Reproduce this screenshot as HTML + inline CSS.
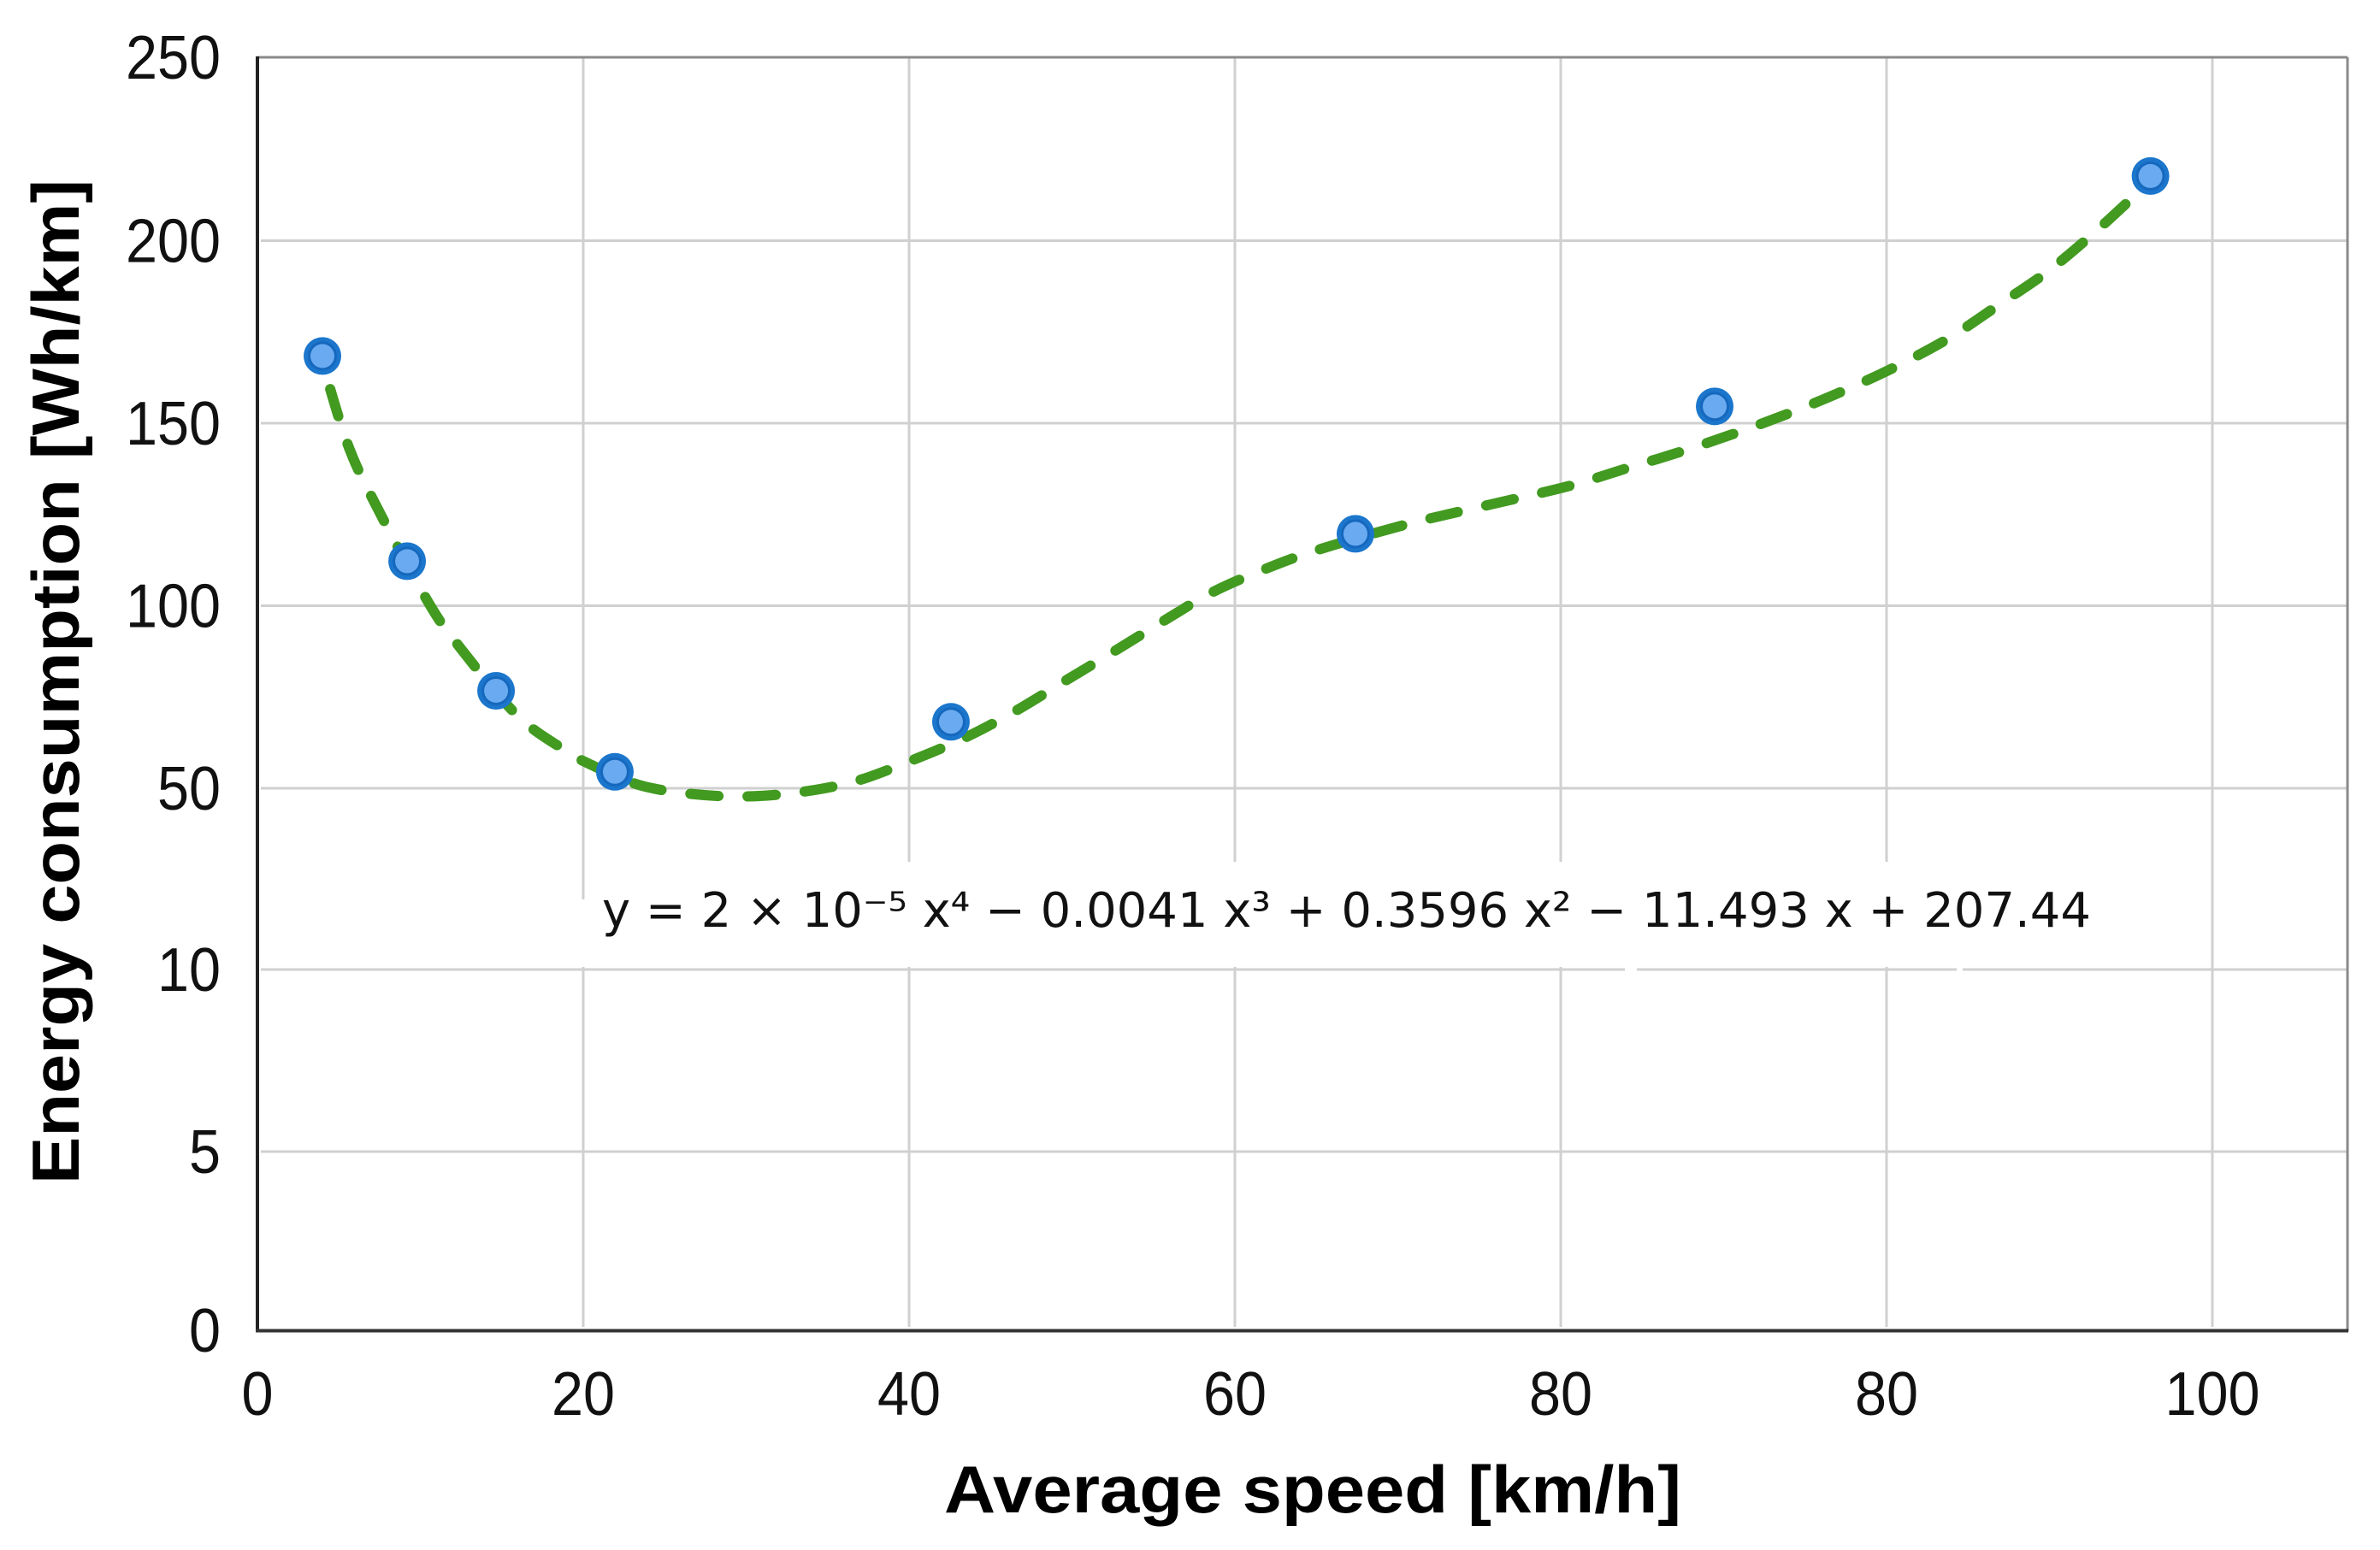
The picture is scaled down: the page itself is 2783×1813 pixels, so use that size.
<!DOCTYPE html>
<html lang="en">
<head>
<meta charset="utf-8">
<title>Energy consumption vs average speed</title>
<style>
html,body{margin:0;padding:0;background:#fff;}
body{width:2783px;height:1813px;overflow:hidden;}
svg{display:block;}
.tick{font-family:"Liberation Sans",sans-serif;font-size:72px;fill:#111;}
.title{font-family:"Liberation Sans",sans-serif;font-size:78px;font-weight:700;fill:#000;}
.eq{font-family:"DejaVu Sans",sans-serif;font-size:56px;fill:#111;}
</style>
</head>
<body>
<svg id="chart" xmlns="http://www.w3.org/2000/svg" width="2783" height="1813" viewBox="0 0 2783 1813">
  <rect x="0" y="0" width="2783" height="1813" fill="#fff"/>
  <g id="grid"></g>
  <g fill="#fff">
    <rect x="1000" y="1008" width="1450" height="123"/>
    <rect x="672" y="1052" width="330" height="79"/>
    <rect x="1900" y="1130" width="14" height="7"/>
    <rect x="2288" y="1130" width="7" height="7"/>
  </g>
  <g id="axes">
    <line x1="301" y1="67" x2="2745" y2="67" stroke="#8a8a8a" stroke-width="3"/>
    <line x1="2745" y1="67" x2="2745" y2="1557" stroke="#8a8a8a" stroke-width="3"/>
    <line x1="301" y1="66" x2="301" y2="1558" stroke="#222" stroke-width="4"/>
    <line x1="299" y1="1556.5" x2="2746" y2="1556.5" stroke="#333" stroke-width="4"/>
  </g>
  <g id="x-ticks"></g>
  <g id="y-ticks"></g>
  <path id="trend" fill="none" stroke="#429a20" stroke-width="12" stroke-linecap="round" stroke-dasharray="33 34" stroke-dashoffset="-7"/>
  <g id="points"></g>
  <text class="eq" x="704" y="1084" textLength="1741" lengthAdjust="spacingAndGlyphs">y = 2 × 10⁻⁵ x⁴ − 0.0041 x³ + 0.3596 x² − 11.493 x + 207.44</text>
  <text class="title" x="1104" y="1769" textLength="862" lengthAdjust="spacingAndGlyphs">Average speed [km/h]</text>
  <text class="title" transform="translate(92 1385) rotate(-90)" x="0" y="0" textLength="1175" lengthAdjust="spacingAndGlyphs">Energy consumption [Wh/km]</text>
</svg>
<script>
// Chart data (x in axis units; the printed x labels repeat "80", as in the source figure)
var xTickValues = [0, 20, 40, 60, 80, 100, 120];
var xTickLabels = ["0", "20", "40", "60", "80", "80", "100"];
var yTickValues = [0, 5, 10, 50, 100, 150, 200, 250];
var yTickLabels = ["0", "5", "10", "50", "100", "150", "200", "250"];
var pointSpeed = [3.99, 9.19, 14.65, 21.94, 42.57, 67.4, 89.45, 116.2];
var pointEnergy = [168.4, 112.2, 76.7, 54.5, 68.2, 119.7, 154.6, 217.7];
var trendSpeed = [4.36, 5.56, 7.07, 10.39, 12.39, 15.91, 18.74, 20.31, 23.44, 26.77, 30.08, 33.44, 36.85, 40.21, 43.41, 46.51, 49.5, 52.55, 55.54, 58.58, 61.78, 65.09, 70.29, 73.81, 77.22, 80.68, 83.94, 87.51, 90.87, 94.12, 97.53, 100.79, 103.9, 106.82, 109.87, 112.6, 115.22, 115.96];
var trendEnergy = [160.9, 144.0, 129.3, 101.7, 88.8, 70.1, 60.8, 56.8, 50.9, 48.7, 48.2, 49.2, 52.1, 57.7, 63.8, 71.1, 79.2, 87.4, 95.6, 103.6, 109.9, 115.3, 122.0, 125.8, 129.3, 133.0, 137.5, 142.4, 147.5, 152.9, 159.2, 166.0, 173.5, 182.2, 191.5, 201.6, 212.3, 215.6];

var SVGNS = "http://www.w3.org/2000/svg";

function xScale(v) {
  return 301 + v * 19.05;
}
function yScale(v) {
  // Printed axis is not linear: 0, 5, 10 and 50 sit in roughly even bands
  if (v >= 50) {
    return 922 - (v - 50) * 4.27;
  }
  if (v >= 10) {
    return 1134 - (v - 10) * 212 / 40;
  }
  if (v >= 5) {
    return 1347 - (v - 5) * 213 / 5;
  }
  return 1556 - v * 209 / 5;
}
function make(tag, parent) {
  var el = document.createElementNS(SVGNS, tag);
  parent.appendChild(el);
  return el;
}

var grid = document.getElementById("grid");
var xTicksGroup = document.getElementById("x-ticks");
var yTicksGroup = document.getElementById("y-ticks");
var pointsGroup = document.getElementById("points");

xTickValues.forEach(function (v, i) {
  var px = xScale(v);
  if (i > 0) {
    var g = make("line", grid);
    
    
    g.setAttribute("x1", px);
    g.setAttribute("x2", px);
    g.setAttribute("y1", 68);
    g.setAttribute("y2", 1552);
    g.setAttribute("stroke", "#d0d0d0");
    g.setAttribute("stroke-width", 3);
  }
  var t = make("text", xTicksGroup);
  
  
  var w = xTickLabels[i].length * 37;
  t.setAttribute("class", "tick");
  t.setAttribute("x", px - w / 2);
  t.setAttribute("y", 1655);
  t.setAttribute("textLength", w);
  t.setAttribute("lengthAdjust", "spacingAndGlyphs");
  t.textContent = xTickLabels[i];
});

yTickValues.forEach(function (v, i) {
  var py = yScale(v);
  if (i > 0 && i < yTickValues.length - 1) {
    var g = make("line", grid);
    
    
    g.setAttribute("x1", 305);
    g.setAttribute("x2", 2744);
    g.setAttribute("y1", py);
    g.setAttribute("y2", py);
    g.setAttribute("stroke", "#d0d0d0");
    g.setAttribute("stroke-width", 3);
  }
  var t = make("text", yTicksGroup);
  
  
  var w = yTickLabels[i].length * 37;
  t.setAttribute("class", "tick");
  t.setAttribute("x", 258 - w);
  t.setAttribute("y", (i === yTickValues.length - 1 ? 67 : py) + 25);
  t.setAttribute("textLength", w);
  t.setAttribute("lengthAdjust", "spacingAndGlyphs");
  t.textContent = yTickLabels[i];
});

// Smooth path through the trend samples (Catmull-Rom to Bezier)
var pts = trendSpeed.map(function (x, i) {
  return [xScale(x), yScale(trendEnergy[i])];
});
var d = "M" + pts[0][0].toFixed(1) + " " + pts[0][1].toFixed(1);
for (var i = 0; i < pts.length - 1; i++) {
  var p0 = pts[Math.max(0, i - 1)];
  var p1 = pts[i];
  var p2 = pts[i + 1];
  var p3 = pts[Math.min(pts.length - 1, i + 2)];
  d += " C" + (p1[0] + (p2[0] - p0[0]) / 6).toFixed(1) + " " + (p1[1] + (p2[1] - p0[1]) / 6).toFixed(1) +
       " " + (p2[0] - (p3[0] - p1[0]) / 6).toFixed(1) + " " + (p2[1] - (p3[1] - p1[1]) / 6).toFixed(1) +
       " " + p2[0].toFixed(1) + " " + p2[1].toFixed(1);
}
document.getElementById("trend").setAttribute("d", d);

pointSpeed.forEach(function (x, i) {
  var cx = xScale(x);
  var cy = yScale(pointEnergy[i]);
  var g = make("g", pointsGroup);
  
  
  var outer = make("circle", g);
  outer.setAttribute("cx", cx);
  outer.setAttribute("cy", cy);
  outer.setAttribute("r", 22);
  outer.setAttribute("fill", "#1b76cc");
  var ring = make("circle", g);
  ring.setAttribute("cx", cx);
  ring.setAttribute("cy", cy);
  ring.setAttribute("r", 17);
  ring.setAttribute("fill", "#1568bd");
  var inner = make("circle", g);
  inner.setAttribute("cx", cx);
  inner.setAttribute("cy", cy);
  inner.setAttribute("r", 14);
  inner.setAttribute("fill", "#6aaaf0");
});
</script>
</body>
</html>
